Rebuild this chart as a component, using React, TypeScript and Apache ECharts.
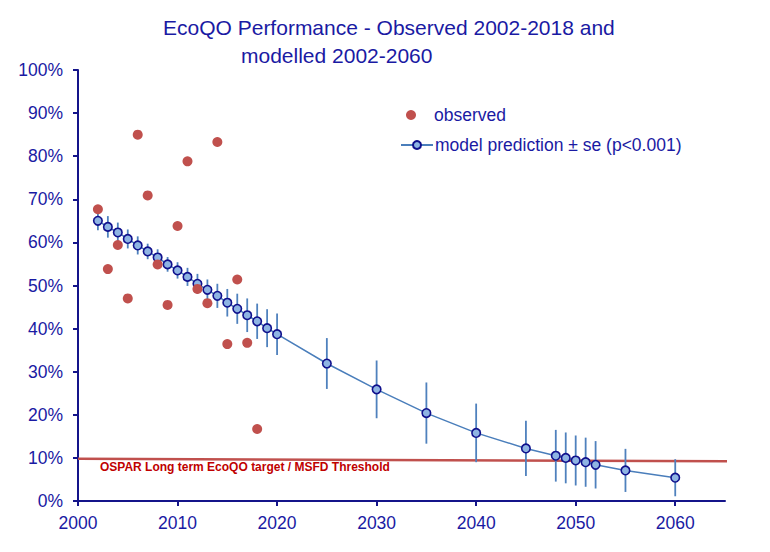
import React, { useEffect, useRef } from "react";
import * as echarts from "echarts";

const obsYears = [2002, 2003, 2004, 2005, 2006, 2007, 2008, 2009, 2010, 2011, 2012, 2013, 2014, 2015, 2016, 2017, 2018];
const obsValues = [67.7, 53.8, 59.4, 47.0, 85.0, 70.9, 54.9, 45.5, 63.8, 78.8, 49.2, 45.9, 83.3, 36.4, 51.4, 36.7, 16.7];

const modelYears = [2002, 2003, 2004, 2005, 2006, 2007, 2008, 2009, 2010, 2011, 2012, 2013, 2014, 2015, 2016, 2017, 2018, 2019, 2020, 2025, 2030, 2035, 2040, 2045, 2048, 2049, 2050, 2051, 2052, 2055, 2060];
const modelValues = [65.0, 63.6, 62.3, 60.8, 59.3, 57.9, 56.5, 54.9, 53.5, 52.0, 50.4, 49.0, 47.6, 46.0, 44.6, 43.1, 41.7, 40.1, 38.7, 31.9, 25.9, 20.4, 15.8, 12.2, 10.5, 10.0, 9.4, 9.0, 8.4, 7.1, 5.4];
const modelSE = [2.2, 2.5, 2.3, 2.2, 2.1, 1.8, 1.9, 1.7, 1.9, 2.1, 2.3, 2.4, 2.8, 3.2, 3.5, 3.9, 4.1, 4.4, 4.8, 5.9, 6.7, 7.1, 6.8, 6.4, 6.0, 5.9, 5.8, 5.7, 5.5, 5.0, 4.3];

const thresholdYears = [2000, 2066.3];
const thresholdValues = [9.8, 9.2];

const xTicks = [2000, 2010, 2020, 2030, 2040, 2050, 2060];

const titleLine1 = "EcoQO Performance - Observed 2002-2018 and";
const titleLine2 = "modelled 2002-2060";
const thresholdLabel = "OSPAR Long term EcoQO target / MSFD Threshold";
const obsName = "observed";
const modelName = "model prediction \u00b1 se (p<0.001)";

const BLUE_TEXT = "#1a1aa3";
const AXIS = "#14148a";
const FONT = "'Liberation Sans', Arial, sans-serif";

export default function App() {
  const ref = useRef<HTMLDivElement>(null);
  useEffect(() => {
    if (!ref.current) return;
    const chart = echarts.init(ref.current, null, { renderer: "svg" });
    const errData = modelYears.map((y, i) => [y, modelValues[i] - modelSE[i], modelValues[i] + modelSE[i]]);
    chart.setOption({
      animation: false,
      backgroundColor: "#ffffff",
      title: [
        { text: titleLine1, left: 163, top: 17, padding: 0, textStyle: { fontFamily: FONT, fontSize: 21, fontWeight: "normal", color: BLUE_TEXT } },
        { text: titleLine2, left: 241, top: 45, padding: 0, textStyle: { fontFamily: FONT, fontSize: 21, fontWeight: "normal", color: BLUE_TEXT } },
      ],
      legend: [
        {
          data: [{ name: obsName, icon: "circle" }],
          left: 406, top: 106, padding: 0, itemWidth: 10, itemHeight: 10,
          selectedMode: false,
          textStyle: { fontFamily: FONT, fontSize: 17.5, color: BLUE_TEXT, padding: [0, 0, 0, 13] },
        },
        {
          data: [{ name: modelName }],
          left: 400, top: 136, padding: 0, itemWidth: 32, itemHeight: 10,
          selectedMode: false,
          textStyle: { fontFamily: FONT, fontSize: 17.5, color: BLUE_TEXT, padding: [0, 0, 0, -3] },
        },
      ],
      grid: { left: 78, right: 45, top: 70, bottom: 51, containLabel: false, outerBoundsMode: "none" },
      xAxis: {
        type: "value", min: 2000, max: 2065, interval: 10,
        splitLine: { show: false },
        axisLine: { lineStyle: { color: AXIS, width: 2 } },
        axisTick: { length: 5, lineStyle: { color: AXIS, width: 2 }, customValues: xTicks },
        axisLabel: { customValues: xTicks, fontFamily: FONT, fontSize: 17.5, color: BLUE_TEXT, margin: 13, formatter: (v: number) => String(v) },
      },
      yAxis: {
        type: "value", min: 0, max: 100, interval: 10,
        splitLine: { show: false },
        axisLine: { show: true, lineStyle: { color: AXIS, width: 2 } },
        axisTick: { show: true, length: 5, lineStyle: { color: AXIS, width: 2 } },
        axisLabel: { fontFamily: FONT, fontSize: 17.5, color: BLUE_TEXT, margin: 15, formatter: "{value}%" },
      },
      graphic: [
        { type: "text", left: 100, top: 461, style: { text: thresholdLabel, fill: "#c00000", font: "bold 12px 'Liberation Sans', Arial, sans-serif" }, z: 10 },
      ],
      series: [
        {
          name: "threshold", type: "line", clip: false, silent: true, symbol: "none",
          data: thresholdYears.map((y, i) => [y, thresholdValues[i]]),
          lineStyle: { color: "#c0504d", width: 2.5 }, z: 1,
        },
        {
          name: "err", type: "custom", clip: false, silent: true, z: 2,
          data: errData,
          encode: { x: 0, y: [1, 2] },
          renderItem: (params: any, api: any) => {
            const p1 = api.coord([api.value(0), api.value(1)]);
            const p2 = api.coord([api.value(0), api.value(2)]);
            return { type: "line", shape: { x1: p1[0], y1: p1[1], x2: p2[0], y2: p2[1] }, style: { stroke: "#4f81bd", lineWidth: 1.8 } };
          },
        },
        {
          name: modelName, type: "line", z: 3,
          data: modelYears.map((y, i) => [y, modelValues[i]]),
          symbol: "circle", symbolSize: 8.5,
          lineStyle: { color: "#4a7ebb", width: 1.5 },
          itemStyle: { color: "#8eb4e3", borderColor: "#10108c", borderWidth: 1.6 },
        },
        {
          name: obsName, type: "scatter", z: 4,
          data: obsYears.map((y, i) => [y, obsValues[i]]),
          symbol: "circle", symbolSize: 10,
          itemStyle: { color: "#c0504d", opacity: 1 },
        },
      ],
    });
    return () => chart.dispose();
  }, []);
  return <div ref={ref} style={{ width: 770, height: 552, position: "absolute", left: 0, top: 0 }} />;
}
